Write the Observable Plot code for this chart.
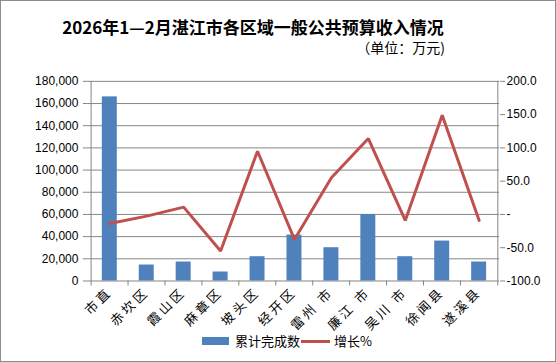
<!DOCTYPE html>
<html><head><meta charset="utf-8">
<script src="https://cdn.jsdelivr.net/npm/d3@7"></script>
<script src="https://cdn.jsdelivr.net/npm/@observablehq/plot@0.6"></script>
<style>
body{margin:0;background:#fff;}
#wrap{position:relative;width:556px;height:362px;box-sizing:border-box;border:1px solid #8c8c8c;overflow:hidden;font-family:"Noto Sans CJK SC",sans-serif;color:#000;background:#fff;}
#chart{position:absolute;left:-1px;top:-1px;}
#title{position:absolute;left:0;width:504px;top:14px;text-align:center;font-size:17px;font-weight:bold;line-height:24px;white-space:nowrap;}
#subtitle{position:absolute;right:110px;top:36px;font-size:14px;line-height:20px;white-space:nowrap;}
#legend{position:absolute;top:331px;left:0;width:100%;height:18px;font-size:13px;line-height:18px;}
.sw{position:absolute;}
.lt{position:absolute;white-space:nowrap;}
</style></head>
<body>
<div id="wrap">
  <div id="chart"></div>
  <div id="title">2026年1—2月湛江市各区域一般公共预算收入情况</div>
  <div id="subtitle">（单位：万元)</div>
  <div id="legend"></div>
</div>
<script>
const categories = ["市直","赤坎区","霞山区","麻章区","坡头区","经开区","雷州 市","廉江 市","吴川 市","徐闻县","遂溪县"];
const totals = [166000,14400,17100,8100,21900,41400,30000,60000,21900,36000,17100];
const growth = [-13.5,-2.5,11,-55,95,-37.5,55,114,-9,149,-9];
const leftTicks = [0,20000,40000,60000,80000,100000,120000,140000,160000,180000];
const rightTicks = [-100,-50,0,50,100,150,200];
const rightTickLabels = ["-100.0","-50.0","-","50.0","100.0","150.0","200.0"];
const seriesNames = ["累计完成数","增长%"];
const colors = ["#4F81BD","#C0504D"];

const leftMax = 180000, rightMin = -100, rightMax = 200;
const toLeft = v => (v - rightMin) / (rightMax - rightMin) * leftMax;
const data = categories.map((c,i)=>({region:c,total:totals[i],growth:growth[i]}));

const W = 556, H = 362, mL = 88, mR = 56, mT = 81, mB = 81;
const step = (W - mL - mR) / categories.length;
const gray = "#868686";

const chart = Plot.plot({
  width: W, height: H,
  marginTop: mT, marginBottom: mB, marginLeft: mL, marginRight: mR,
  style: {fontFamily: '"Liberation Sans", sans-serif', fontSize: "12px", color: "#000", background: "transparent", overflow: "visible"},
  x: {type: "band", domain: categories, paddingInner: 0.6, paddingOuter: 0.3, label: null},
  y: {domain: [0, leftMax], label: null},
  marks: [
    Plot.gridY(leftTicks, {stroke: gray, strokeOpacity: 1}),
    Plot.barY(data, {x: "region", y: "total", fill: colors[0]}),
    Plot.lineY(data, {x: "region", y: d => toLeft(d.growth), stroke: colors[1], strokeWidth: 3, strokeLinejoin: "miter"}),
    // vertical axis lines
    Plot.ruleX([categories[0]], {dx: -step/2, stroke: gray}),
    Plot.ruleX([categories[categories.length-1]], {dx: step/2, stroke: gray}),
    // category boundary ticks
    Plot.ruleX(categories, {dx: -step/2, y1: 0, y2: 0, insetBottom: -5, stroke: gray}),
    Plot.ruleX([categories[categories.length-1]], {dx: step/2, y1: 0, y2: 0, insetBottom: -5, stroke: gray}),
    Plot.axisY(leftTicks, {anchor: "left", tickFormat: d3.format(","), tickSize: 5, tickPadding: 5, stroke: gray}),
    Plot.axisY(rightTicks.map(toLeft), {anchor: "right", tickFormat: d => rightTickLabels[rightTicks.indexOf(Math.round(d / leftMax * (rightMax - rightMin) + rightMin))], tickSize: 5, tickPadding: 2, stroke: gray}),
    Plot.axisX({tickRotate: -45, tickSize: 0, tickPadding: 9, fontSize: 13, fontFamily: '"Noto Sans CJK SC", sans-serif'})
  ]
});
document.getElementById("chart").appendChild(chart);
chart.querySelectorAll('g[aria-label="x-axis tick label"] text').forEach(t => t.setAttribute("letter-spacing", "3"));

const lg = document.getElementById("legend");
lg.innerHTML = `
  <div class="sw" style="left:201px;top:5px;width:27px;height:8px;background:${colors[0]}"></div>
  <div class="lt" style="left:234px;top:0">${seriesNames[0]}</div>
  <div class="sw" style="left:300px;top:7.5px;width:29px;height:3px;background:${colors[1]}"></div>
  <div class="lt" style="left:333px;top:0">${seriesNames[1]}</div>`;
</script>
</body></html>
